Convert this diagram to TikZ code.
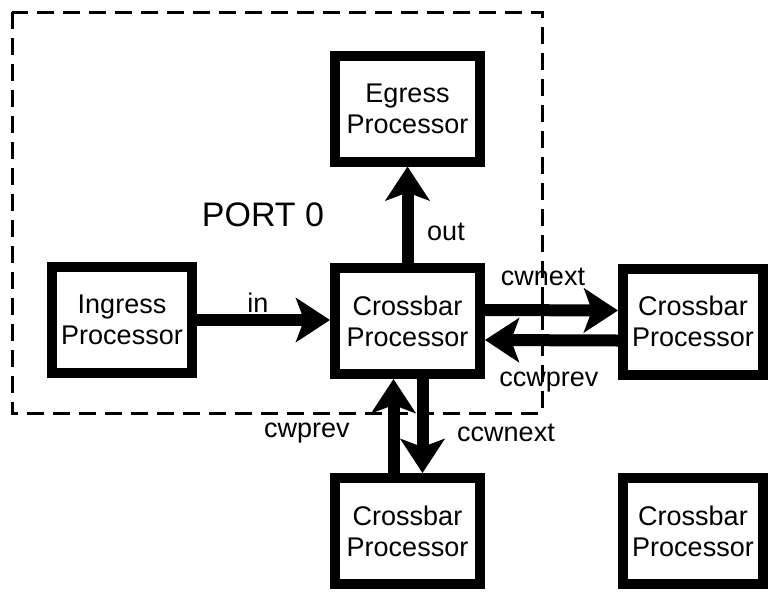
\documentclass[tikz,border=0pt]{standalone}
\usepackage{fontspec}
\setmainfont{Liberation Sans}
\usetikzlibrary{arrows.meta}

\begin{document}
\begin{tikzpicture}[x=0.5pt,y=-0.5pt,
	procbox/.style={rectangle,draw,line width=5pt,minimum width=72.5pt,minimum height=53pt,inner sep=0pt,align=center,font=\fontsize{13.5}{15.5}\selectfont},
	linklabel/.style={inner sep=0pt,font=\fontsize{13.5}{15.5}\selectfont},
	bigarrow/.style={line width=6pt,arrows={-Stealth[length=17pt,width=22pt,inset=4pt]}}]
	\useasboundingbox (0,0) rectangle (768,591);
	
	\draw[line width=1.5pt,dash pattern=on 8.5pt off 4.5pt] (12,12) rectangle (542,413);
	\node[inner sep=0pt,font=\fontsize{17}{20}\selectfont] (port)
	at (263,215) {PORT 0};
	
	\node[procbox] (egress)
	at (407.5,108.5) {Egress\\Processor};
	\node[procbox,minimum width=70pt] (ingress)
	at (122,320) {Ingress\\Processor};
	\node[procbox] (xbar)
	at (407.5,321) {Crossbar\\Processor};
	\node[procbox,minimum width=70pt] (xbarright)
	at (693,321.5) {Crossbar\\Processor};
	\node[procbox] (xbarbelow)
	at (407.5,531) {Crossbar\\Processor};
	\node[procbox,minimum width=70pt] (xbarcorner)
	at (693,531) {Crossbar\\Processor};
	
	\path[bigarrow] (ingress.east) edge (ingress.east -| xbar.west);
	\path[bigarrow] (xbar.north) edge (egress.south);
	\path[bigarrow] ([yshift=5.5pt]xbar.east) edge ([yshift=5.5pt]xbarright.west);
	\path[bigarrow] ([yshift=-9.5pt]xbarright.west) edge ([yshift=-9.5pt]xbar.east);
	\path[bigarrow] ([xshift=-7pt]xbarbelow.north) edge ([xshift=-7pt]xbar.south);
	\path[bigarrow] ([xshift=7.5pt]xbar.south) edge ([xshift=7.5pt]xbarbelow.north);
	
	\node[linklabel] (lin) at (258,303) {in};
	\node[linklabel] (lout) at (446,232) {out};
	\node[linklabel] (lcwnext) at (543,277) {cwnext};
	\node[linklabel] (lccwprev) at (549,382) {ccwprev};
	\node[linklabel] (lcwprev) at (307,433) {cwprev};
	\node[linklabel] (lccwnext) at (506,433) {ccwnext};
\end{tikzpicture}
\end{document}
